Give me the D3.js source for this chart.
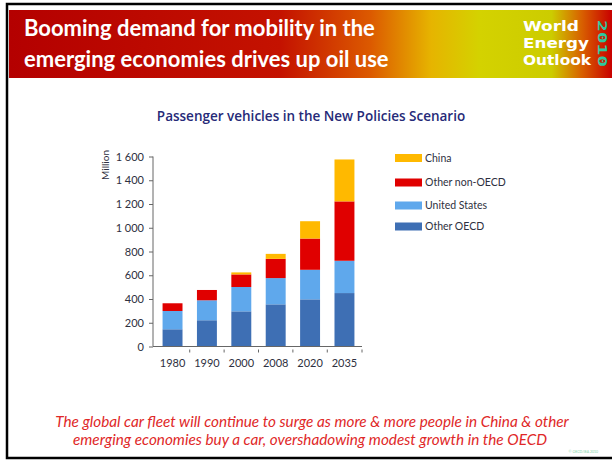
<!DOCTYPE html>
<html>
<head>
<meta charset="utf-8">
<script src="https://cdn.jsdelivr.net/npm/d3@7"></script>
<style>
  body { margin: 0; background: #fff; }
  svg { display: block; font-family: Lato, "Open Sans", sans-serif; }
</style>
</head>
<body>
<div id="chart"></div>
<script>
// data (million passenger vehicles)
var years = ["1980", "1990", "2000", "2008", "2020", "2035"];
var otherOECD = [145, 221, 296, 355, 397, 450];
var unitedStates = [154, 168, 205, 221, 249, 272];
var otherNonOECD = [65, 87, 106, 162, 263, 500];
var china = [0, 0, 17, 42, 146, 353];
var seriesNames = ["Other OECD", "United States", "Other non-OECD", "China"];
var seriesColors = ["#3e6fb4", "#5fa8ec", "#e00000", "#ffb900"];
var yTicks = [0, 200, 400, 600, 800, 1000, 1200, 1400, 1600];

var W = 612, H = 461;
var svg = d3.select("#chart").append("svg")
    .attr("width", W)
    .attr("height", H);

// frame
svg.append("rect")
    .attr("x", 7).attr("y", 4)
    .attr("width", 612).attr("height", 454)
    .attr("fill", "#fff")
    .attr("stroke", "#000")
    .attr("stroke-width", 2.5);

// banner
var defs = svg.append("defs");
var grad = defs.append("linearGradient").attr("id", "banner");
[[0, "#b40000"], [0.45, "#c41200"], [0.6, "#dc5a00"], [0.7, "#e6b400"],
 [0.78, "#d4d200"], [0.9, "#cccc00"], [0.95, "#d86000"], [1, "#c80000"]]
    .forEach(function (s) {
        grad.append("stop").attr("offset", s[0]).attr("stop-color", s[1]);
    });
svg.append("rect")
    .attr("x", 9).attr("y", 10)
    .attr("width", 603).attr("height", 68)
    .attr("fill", "url(#banner)");

var head = svg.append("text")
    .attr("fill", "#fff")
    .attr("font-size", 22)
    .attr("font-weight", "bold")
    .attr("font-family", "Lato, sans-serif");
head.append("tspan").attr("x", 24).attr("y", 36).text("Booming demand for mobility in the");
head.append("tspan").attr("x", 24).attr("y", 67).text("emerging economies drives up oil use");

var logoLines = ["World", "Energy", "Outlook"];
var logoWidths = [56, 66, 68];
svg.append("g")
    .selectAll("text")
    .data(logoLines)
    .enter()
    .append("text")
    .attr("x", 523)
    .attr("y", function (d, i) { return 31 + i * 17; })
    .attr("fill", "#fff")
    .attr("font-size", 14)
    .attr("font-weight", "bold")
    .attr("font-family", "'DejaVu Sans', sans-serif")
    .attr("textLength", function (d, i) { return logoWidths[i]; })
    .attr("lengthAdjust", "spacingAndGlyphs")
    .text(function (d) { return d; });
svg.append("text")
    .attr("transform", "translate(598,20) rotate(90)")
    .attr("fill", "#2ec8a0")
    .attr("font-size", 13)
    .attr("font-weight", "bold")
    .attr("font-family", "'DejaVu Sans Mono', monospace")
    .attr("textLength", 47)
    .attr("lengthAdjust", "spacingAndGlyphs")
    .text("2010");

// chart title
svg.append("text")
    .attr("x", 311).attr("y", 121)
    .attr("text-anchor", "middle")
    .attr("fill", "#262a78")
    .attr("font-size", 13.5)
    .attr("font-weight", 600)
    .attr("font-family", "'Open Sans', sans-serif")
    .text("Passenger vehicles in the New Policies Scenario");

// scales
var x = d3.scaleBand()
    .domain(years)
    .range([155, 362])
    .paddingInner(0.42)
    .paddingOuter(0.22);

var y = d3.scaleLinear()
    .domain([0, 1600])
    .range([346.5, 156.5]);

var table = years.map(function (yr, i) {
    return {
        year: yr,
        "Other OECD": otherOECD[i],
        "United States": unitedStates[i],
        "Other non-OECD": otherNonOECD[i],
        "China": china[i]
    };
});
var stacked = d3.stack().keys(seriesNames)(table);

svg.append("g")
    .selectAll("g")
    .data(stacked)
    .enter()
    .append("g")
    .attr("fill", function (d, i) { return seriesColors[i]; })
    .selectAll("rect")
    .data(function (d) { return d; })
    .enter()
    .append("rect")
    .attr("x", function (d) { return x(d.data.year); })
    .attr("y", function (d) { return y(d[1]); })
    .attr("width", x.bandwidth())
    .attr("height", function (d) { return y(d[0]) - y(d[1]); });

// y axis
var fmt = function (v) { return d3.format(",")(v).replace(",", " "); };
var yAxis = svg.append("g")
    .attr("transform", "translate(153,0)")
    .call(d3.axisLeft(y).tickValues(yTicks).tickSize(4).tickPadding(5).tickFormat(fmt));
yAxis.select(".domain").attr("stroke", "#666").attr("d", "M0," + y(1600) + "V" + y(0));
yAxis.selectAll(".tick line").attr("stroke", "#666");
yAxis.selectAll("text")
    .attr("fill", "#2e3040")
    .attr("font-size", 11)
    .attr("font-family", "Lato, sans-serif")
    .style("white-space", "pre");

svg.append("text")
    .attr("transform", "translate(109,150) rotate(-90)")
    .attr("text-anchor", "end")
    .attr("fill", "#2e3040")
    .attr("font-size", 10)
    .text("Million");

// x axis
var xAxis = svg.append("g")
    .attr("transform", "translate(0," + y(0) + ")")
    .call(d3.axisBottom(x).tickSize(0).tickPadding(13));
xAxis.select(".domain").attr("stroke", "#666").attr("d", "M153,0H362");
xAxis.selectAll("text")
    .attr("fill", "#2e3040")
    .attr("font-size", 11)
    .attr("font-family", "Lato, sans-serif");
// small marks between categories
var step = x.step();
xAxis.selectAll(".sep")
    .data(years.slice(1))
    .enter()
    .append("line")
    .attr("x1", function (d) { return x(d) - (step - x.bandwidth()) / 2; })
    .attr("x2", function (d) { return x(d) - (step - x.bandwidth()) / 2; })
    .attr("y1", 3).attr("y2", 6)
    .attr("stroke", "#666");
xAxis.append("line")
    .attr("x1", 362).attr("x2", 362)
    .attr("y1", 3).attr("y2", 6)
    .attr("stroke", "#666");

// legend
var legendY = [158, 182.5, 205.5, 226.5];
var legendOrder = ["China", "Other non-OECD", "United States", "Other OECD"];
var legend = svg.append("g")
    .selectAll("g")
    .data(legendOrder)
    .enter()
    .append("g")
    .attr("transform", function (d, i) { return "translate(395," + legendY[i] + ")"; });
legend.append("rect")
    .attr("x", 0).attr("y", -4)
    .attr("width", 27).attr("height", 8)
    .attr("fill", function (d) { return seriesColors[seriesNames.indexOf(d)]; });
legend.append("text")
    .attr("x", 30).attr("y", 3.5)
    .attr("fill", "#2e3040")
    .attr("font-size", 10.5)
    .text(function (d) { return d; });

// footnote
var note = svg.append("text")
    .attr("text-anchor", "middle")
    .attr("fill", "#e02828")
    .attr("font-size", 15.3)
    .attr("font-style", "italic");
note.append("tspan").attr("x", 312).attr("y", 427)
    .text("The global car fleet will continue to surge as more & more people in China & other");
note.append("tspan").attr("x", 310).attr("y", 445)
    .text("emerging economies buy a car, overshadowing modest growth in the OECD");

svg.append("text")
    .attr("x", 598).attr("y", 453)
    .attr("text-anchor", "end")
    .attr("fill", "#7fd3a8")
    .attr("font-size", 3.5)
    .text("\u00a9 OECD/IEA 2010");
</script>
</body>
</html>
